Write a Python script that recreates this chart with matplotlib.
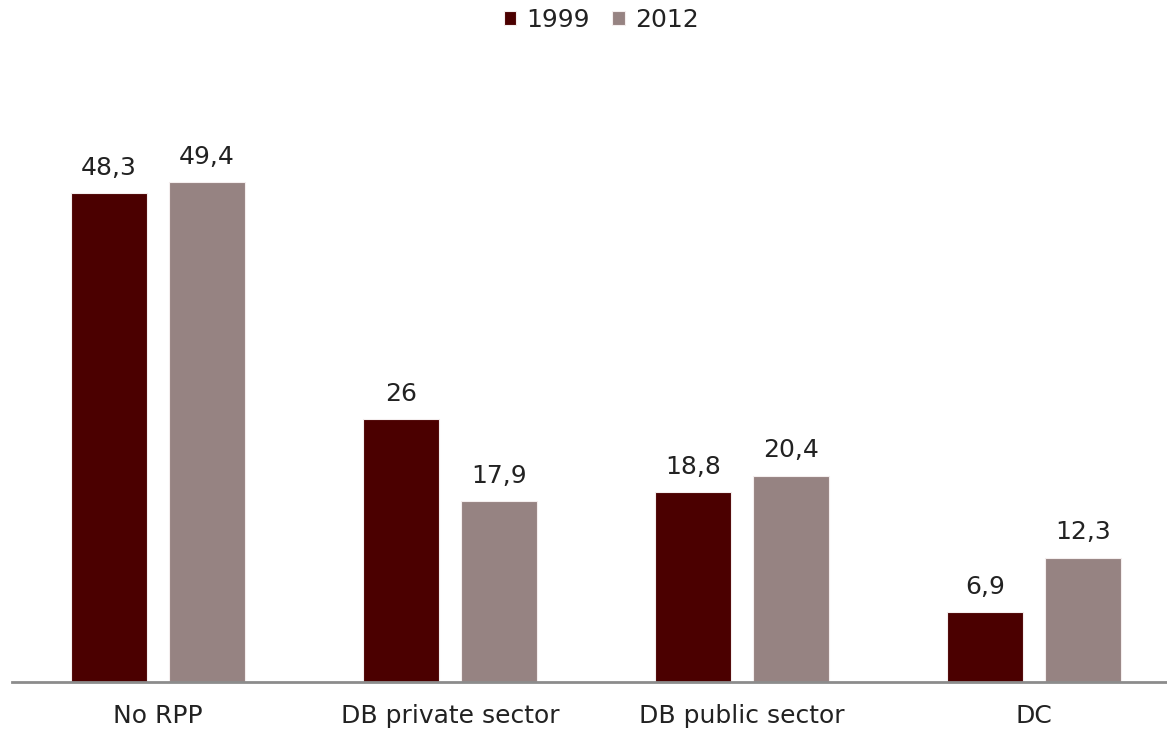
import numpy as np
from matplotlib import pyplot as plt

plt.rcParams['font.family'] = ['DejaVu Sans']

categories = ['No RPP', 'DB private sector', 'DB public sector', 'DC']
years = ['1999', '2012']
values_1999 = [48.3, 26, 18.8, 6.9]
values_2012 = [49.4, 17.9, 20.4, 12.3]
colors = ['#4b0000', '#968382']


def fmt(v):
    # comma as decimal separator, drop trailing .0
    s = f'{v:g}'
    return s.replace('.', ',')


fig = plt.figure(figsize=(11.67, 7.3), dpi=100)
ax = fig.add_axes([12 / 1167, 48 / 730, 1155 / 1167, 607 / 730])

x = np.arange(len(categories))
width = 0.26
offset = 0.168
for i, (vals, year) in enumerate(zip([values_1999, values_2012], years)):
    pos = x + (offset if i else -offset)
    bars = ax.bar(pos, vals, width, color=colors[i], label=year,
                  edgecolor='#f4eeee', linewidth=0.8)
    for b, v in zip(bars, vals):
        ax.text(b.get_x() + b.get_width() / 2, v + 1.8, fmt(v),
                ha='center', va='baseline', fontsize=18, color='#222222')

ax.set_xlim(-0.5, 3.455)
ax.set_ylim(0, 60)
ax.set_xticks(x)
ax.set_xticklabels(categories, fontsize=18, color='#222222')
ax.tick_params(axis='x', length=0, pad=16)
ax.set_yticks([])
for side in ['top', 'right', 'left']:
    ax.spines[side].set_visible(False)
ax.spines['bottom'].set_color('#8c8c8c')
ax.spines['bottom'].set_linewidth(2)

leg = fig.legend(loc='upper center', bbox_to_anchor=(0.515, 1.02), ncol=2,
                 frameon=False, fontsize=18, handlelength=0.5, handleheight=0.5,
                 handletextpad=0.4, columnspacing=0.9)
for t in leg.get_texts():
    t.set_color('#222222')

fig.savefig('out.png', dpi=100)
